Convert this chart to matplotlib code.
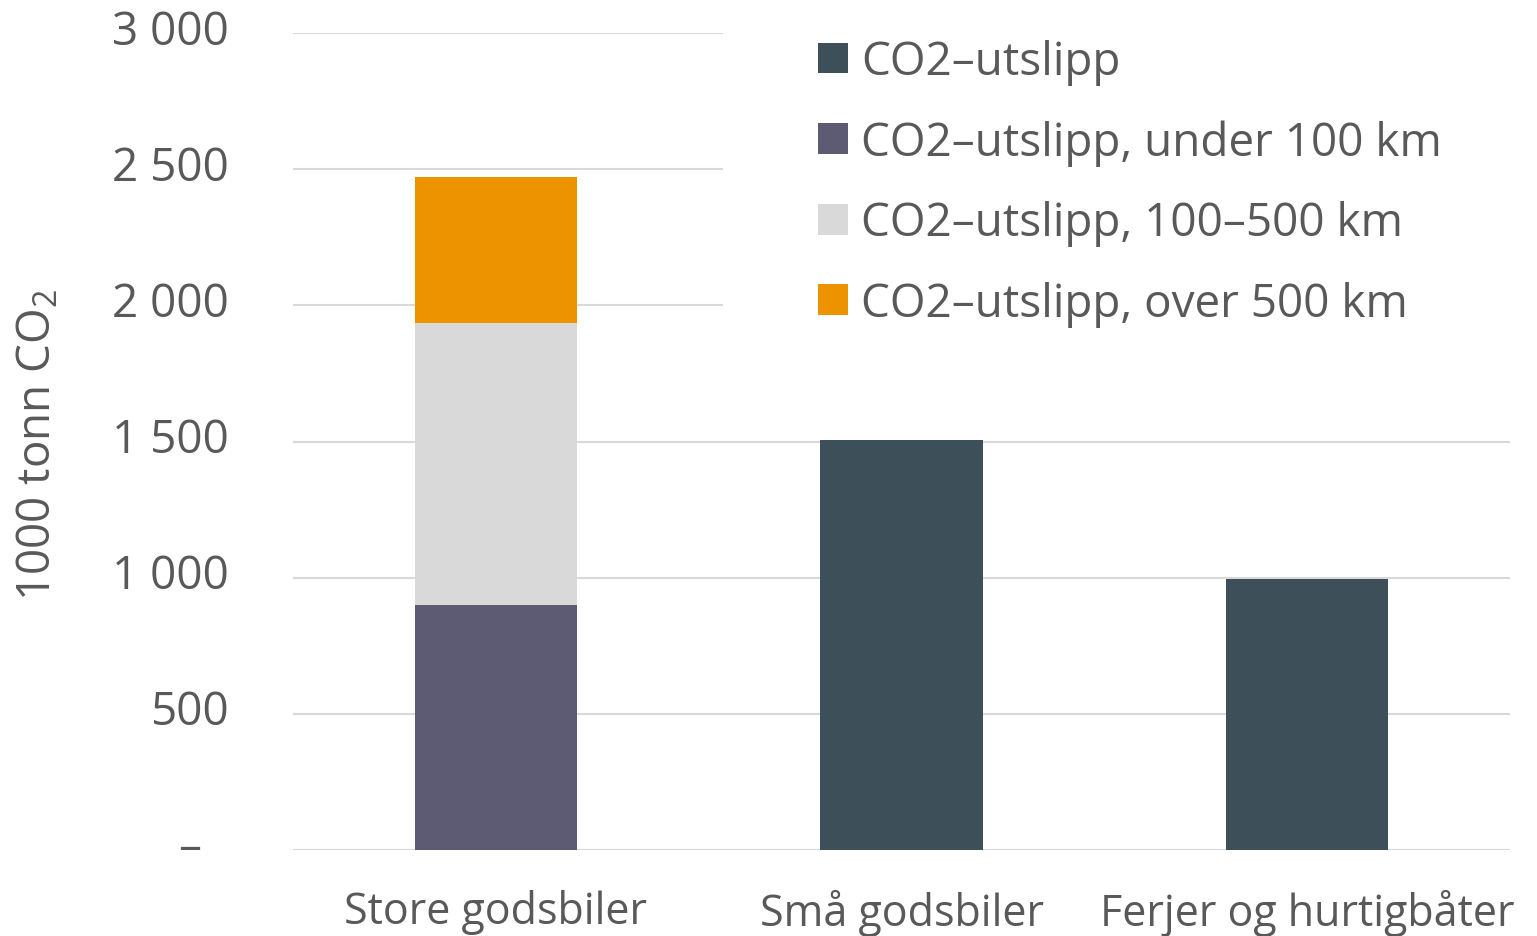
import matplotlib
matplotlib.use("Agg")
import matplotlib.pyplot as plt
from matplotlib.patches import Rectangle, Patch
from matplotlib.transforms import ScaledTranslation
import numpy as np

categories = ["Store godsbiler", "Små godsbiler", "Ferjer og hurtigbåter"]
co2_total = [0, 1505, 995]
co2_under100 = [900, 0, 0]
co2_100_500 = [1035, 0, 0]
co2_over500 = [536, 0, 0]
series_labels = ["CO2–utslipp", "CO2–utslipp, under 100 km",
                 "CO2–utslipp, 100–500 km", "CO2–utslipp, over 500 km"]
yticks = [0, 500, 1000, 1500, 2000, 2500, 3000]
ytick_labels = ["–", "500", "1 000", "1 500", "2 000", "2 500", "3 000"]
colors = ["#3D4F59", "#5C5B73", "#D9D9D9", "#EE9300"]

TXT = "#595959"
FS = 33
FSX = 31
plt.rcParams["font.family"] = ["Open Sans", "DejaVu Sans"]

W, H = 1537, 937
fig = plt.figure(figsize=(W / 100, H / 100), dpi=100)
ax = fig.add_axes([293 / W, 1 - 851 / H, (1510 - 293) / W, (851 - 34) / H])

x = np.arange(len(categories))
bw = 0.40
ax.bar(x, co2_total, bw, color=colors[0], zorder=2)
ax.bar(x, co2_under100, bw, color=colors[1], zorder=2)
ax.bar(x, co2_100_500, bw, bottom=co2_under100, color=colors[2], zorder=2)
b2 = np.array(co2_under100) + np.array(co2_100_500)
ax.bar(x, co2_over500, bw, bottom=b2, color=colors[3], zorder=2)

ax.set_xlim(-0.5, 2.5)
ax.set_ylim(0, 3000)
ax.set_yticks(yticks)
ax.set_yticklabels(ytick_labels)
ax.set_xticks(x)
ax.set_xticklabels(categories)
ax.tick_params(axis="y", length=0, pad=46, labelsize=FS, labelcolor=TXT)
ax.tick_params(axis="x", length=0, pad=28, labelsize=FSX, labelcolor=TXT)
shift = ScaledTranslation(0, 7 / 100, fig.dpi_scale_trans)
shift0 = ScaledTranslation(-28 / 100, 7 / 100, fig.dpi_scale_trans)
for i, lab in enumerate(ax.get_yticklabels()):
    lab.set_transform(lab.get_transform() + (shift0 if i == 0 else shift))
for s in ax.spines.values():
    s.set_visible(False)
ax.set_axisbelow(True)
ax.grid(axis="y", color="#D9D9D9", linewidth=1.5, zorder=0)

# white legend area covering gridlines
ax.add_patch(Rectangle(((723 - 293) / 1217, 0.56), 1.0, 0.5, transform=ax.transAxes,
                       facecolor="white", edgecolor="none", zorder=1, clip_on=False))

fig.text(39 / W, 1 - 445 / H, "1000 tonn CO$\\mathregular{_2}$", rotation=90,
         ha="center", va="center", fontsize=FS, color=TXT)

handles = [Patch(facecolor=c, edgecolor="none") for c in colors]
fpx = FS * 100 / 72
leg = fig.legend(handles, series_labels, loc="upper left",
                 bbox_to_anchor=(818 / W, 1 - 40 / H), frameon=False,
                 fontsize=FS, labelcolor=TXT,
                 handlelength=30 / fpx, handleheight=30 / fpx,
                 handletextpad=13 / fpx, labelspacing=0.75,
                 borderpad=0, borderaxespad=0)

fig.savefig("out.png", dpi=100, facecolor="white")
